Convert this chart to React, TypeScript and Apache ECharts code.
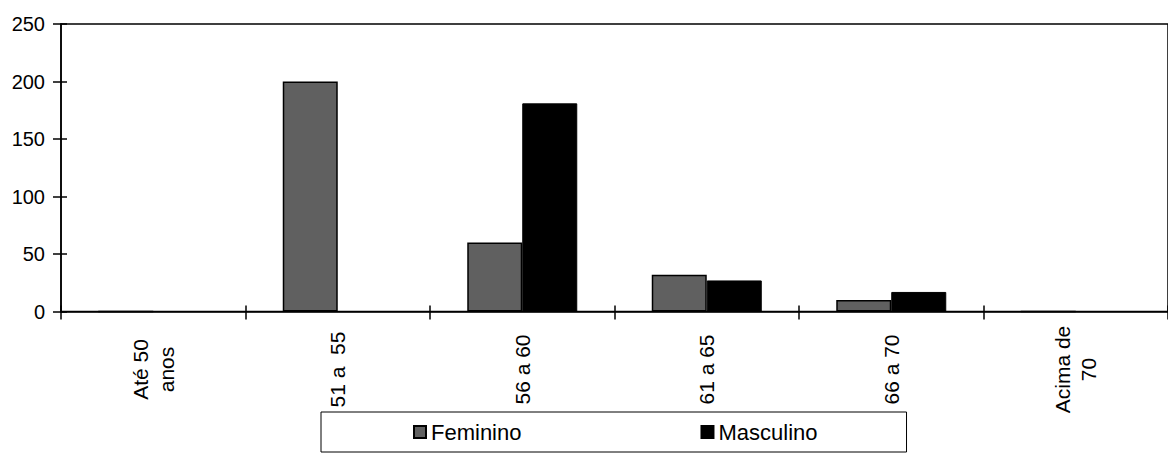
import React, { useEffect, useRef } from "react";
import * as echarts from "echarts";

const categories = ["Até 50\nanos", "51 a  55", "56 a 60", "61 a 65", "66 a 70", "Acima de\n70"];
const feminino = [0, 200, 60, 32, 10, 0];
const masculino = [0, 0, 181, 27, 17, 0];
const yTicks = { min: 0, max: 250, interval: 50 };

const FONT = "'Liberation Sans', Arial, sans-serif";

export default function App() {
  const ref = useRef<HTMLDivElement>(null);
  useEffect(() => {
    document.body.style.margin = "0";
    const chart = echarts.init(ref.current!, undefined, { renderer: "svg" });
    chart.setOption({
      animation: false,
      backgroundColor: "#fff",
      grid: {
        left: 61,
        top: 24,
        right: -9,
        bottom: 146.5,
        show: true,
        borderColor: "#000",
        borderWidth: 1.5,
      },
      legend: {
        left: 321,
        top: 412,
        padding: [9, 89, 9, 92],
        itemGap: 179,
        itemWidth: 12,
        itemHeight: 12,
        icon: "rect",
        borderColor: "#000",
        borderWidth: 1,
        textStyle: { color: "#000", fontSize: 22, fontFamily: FONT },
        data: ["Feminino", "Masculino"],
      },
      xAxis: [
        {
          type: "category",
          data: categories,
          axisLine: { lineStyle: { color: "#000", width: 1.5 } },
          axisTick: { show: true, length: 8, lineStyle: { color: "#000", width: 1.5 } },
          axisLabel: {
            rotate: 90,
            align: "center",
            verticalAlign: "middle",
            margin: 58,
            color: "#000",
            fontSize: 21,
            lineHeight: 26,
            fontFamily: FONT,
            interval: 0,
          },
        },
        {
          type: "category",
          data: categories,
          position: "bottom",
          axisLine: { show: false },
          axisTick: { show: true, inside: true, length: 6, lineStyle: { color: "#000", width: 1.5 } },
          axisLabel: { show: false },
        },
      ],
      yAxis: [
        {
          type: "value",
          min: yTicks.min,
          max: yTicks.max,
          interval: yTicks.interval,
          splitLine: { show: false },
          axisLine: { show: true, lineStyle: { color: "#000", width: 1.5 } },
          axisTick: { show: true, length: 8, lineStyle: { color: "#000", width: 1.5 } },
          axisLabel: { color: "#000", fontSize: 20, fontFamily: FONT, margin: 16 },
        },
        {
          type: "value",
          min: yTicks.min,
          max: yTicks.max,
          interval: yTicks.interval,
          position: "left",
          splitLine: { show: false },
          axisLine: { show: false },
          axisTick: { show: true, inside: true, length: 6, lineStyle: { color: "#000", width: 1.5 } },
          axisLabel: { show: false },
        },
      ],
      series: [
        {
          name: "Feminino",
          type: "bar",
          data: feminino,
          barWidth: 55,
          barGap: "0%",
          itemStyle: { color: "#606060", borderColor: "#000", borderWidth: 1.5 },
        },
        {
          name: "Masculino",
          type: "bar",
          data: masculino,
          barWidth: 55,
          barGap: "0%",
          itemStyle: { color: "#000", borderColor: "#000", borderWidth: 1 },
        },
      ],
    });
    return () => chart.dispose();
  }, []);
  return <div ref={ref} style={{ width: 1168, height: 458 }} />;
}
